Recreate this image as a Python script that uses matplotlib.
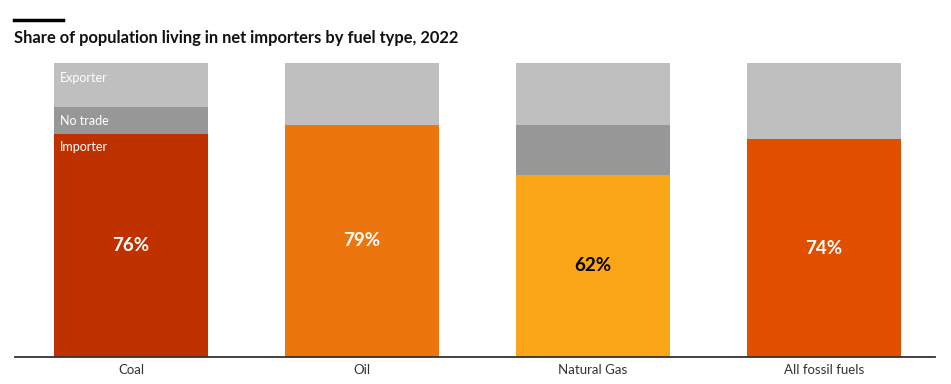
import matplotlib
matplotlib.use("Agg")
import matplotlib.pyplot as plt

categories = ["Coal", "Oil", "Natural Gas", "All fossil fuels"]
importer = [76, 79, 62, 74]
no_trade = [9, 0, 17, 0]
exporter = [15, 21, 21, 26]
bar_colors = ["#BF3200", "#EC750D", "#FBA518", "#E04E00"]
label_colors = ["white", "white", "black", "white"]
segment_names = ["Exporter", "No trade", "Importer"]

plt.rcParams['font.family'] = ['Lato', 'DejaVu Sans']

fig = plt.figure(figsize=(9.51, 3.84), dpi=100)
ax = fig.add_axes([15/951, 1-357/384, 920/951, (357-63)/384])

x = list(range(len(categories)))
w = 0.667
ax.bar(x, importer, width=w, color=bar_colors, linewidth=0)
bottom2 = importer
ax.bar(x, no_trade, width=w, bottom=bottom2, color="#979797", linewidth=0)
bottom3 = [a + b for a, b in zip(importer, no_trade)]
ax.bar(x, exporter, width=w, bottom=bottom3, color="#BFBFBF", linewidth=0)

for xi, v, c in zip(x, importer, label_colors):
    ax.text(xi, v/2, f"{v}%", ha="center", va="center", color=c,
            fontsize=13.5, fontweight="bold")

# segment labels in first bar
left = x[0] - w/2 + 0.025
ax.text(left, bottom3[0] + exporter[0] - 3.0, segment_names[0], ha="left", va="top",
        color="white", fontsize=9, zorder=5)
ax.text(left, bottom2[0] + no_trade[0] - 2.6, segment_names[1], ha="left", va="top",
        color="white", fontsize=9, zorder=5)
ax.text(left, importer[0] - 2.4, segment_names[2], ha="left", va="top",
        color="white", fontsize=9, zorder=5)

ax.set_xlim(-0.502, 3.48)
ax.set_ylim(0, 100)
ax.set_xticks(x)
ax.set_xticklabels(categories, fontsize=9.5, color="#333333")
ax.tick_params(axis="x", length=0, pad=5)
ax.set_yticks([])
for s in ["top", "right", "left"]:
    ax.spines[s].set_visible(False)
ax.spines["bottom"].set_color("#333333")
ax.spines["bottom"].set_linewidth(1.3)

fig.text(14/951, 1-38/384, "Share of population living in net importers by fuel type, 2022",
         ha="left", va="center", fontsize=11.9, fontweight="bold", color="#111111")
fig.add_artist(plt.Line2D([14/951, 63/951], [1-20/384, 1-20/384],
                          color="black", linewidth=2.5, transform=fig.transFigure))

fig.savefig("out.png", dpi=100)
